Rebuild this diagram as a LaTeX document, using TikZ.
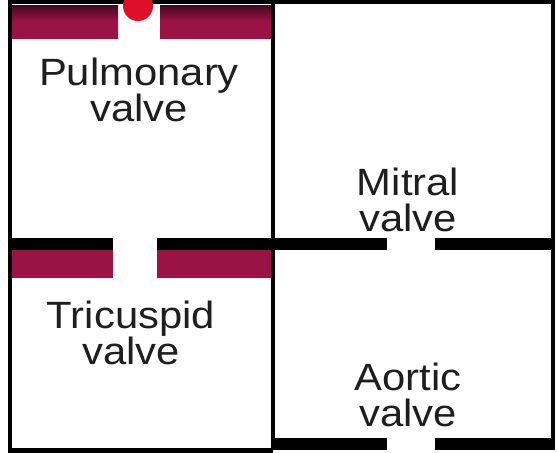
\documentclass[tikz,border=0pt]{standalone}
\usepackage{fontspec}
\setmainfont{Liberation Sans}
\definecolor{wallred}{RGB}{155,18,68}
\definecolor{dotred}{RGB}{222,16,40}
\definecolor{labelgray}{RGB}{30,30,30}
\tikzset{
  wall/.style={fill=black},
  band/.style={top color=wallred!45!black, bottom color=wallred, middle color=wallred},
  flatband/.style={fill=wallred},
  frame/.style={draw=black, line width=4.5pt},
  label/.style={align=center, text=labelgray, font=\fontsize{38}{36}\selectfont,
    inner sep=0pt, xscale=1.1, transform shape}
}
\begin{document}
\begin{tikzpicture}[x=1pt,y=-1pt]
  \useasboundingbox (0,0) rectangle (558,453);
  \fill[white] (0,0) rectangle (558,453);
  % pulmonary band along the top of the left chamber
  \shade[band] (12,5) rectangle (118,38);
  \shade[band] (160,5) rectangle (271,38);
  % tricuspid wall with its band
  \fill[wall] (10,238) rectangle (113,250);
  \fill[wall] (157,238) rectangle (275,250);
  \fill[flatband] (12,250) rectangle (113,278);
  \fill[flatband] (157,250) rectangle (271,278);
  % mitral wall
  \fill[wall] (271,238) rectangle (387,250);
  \fill[wall] (435,238) rectangle (555,250);
  % aortic wall
  \fill[wall] (271,438) rectangle (387,450);
  \fill[wall] (435,438) rectangle (555,450);
  % outer frame and divider
  \draw[frame] (8,2.2) -- (555,2.2);
  \draw[frame] (10,0) -- (10,453);
  \draw[frame] (273,0) -- (273,450);
  \draw[frame] (553,0) -- (553,445);
  \draw[frame] (8,450.5) -- (273,450.5);
  % red marker on the pulmonary opening
  \begin{scope}
    \clip (0,0) rectangle (558,453);
    \fill[dotred] (138,6) circle (15);
  \end{scope}
  % labels
  \node[label] (pulm) at (139,90) {Pulmonary\\valve};
  \node[label] (mitr) at (408,200) {Mitral\\valve};
  \node[label] (tric) at (131,333) {Tricuspid\\valve};
  \node[label] (aort) at (408,395) {Aortic\\valve};
\end{tikzpicture}
\end{document}
